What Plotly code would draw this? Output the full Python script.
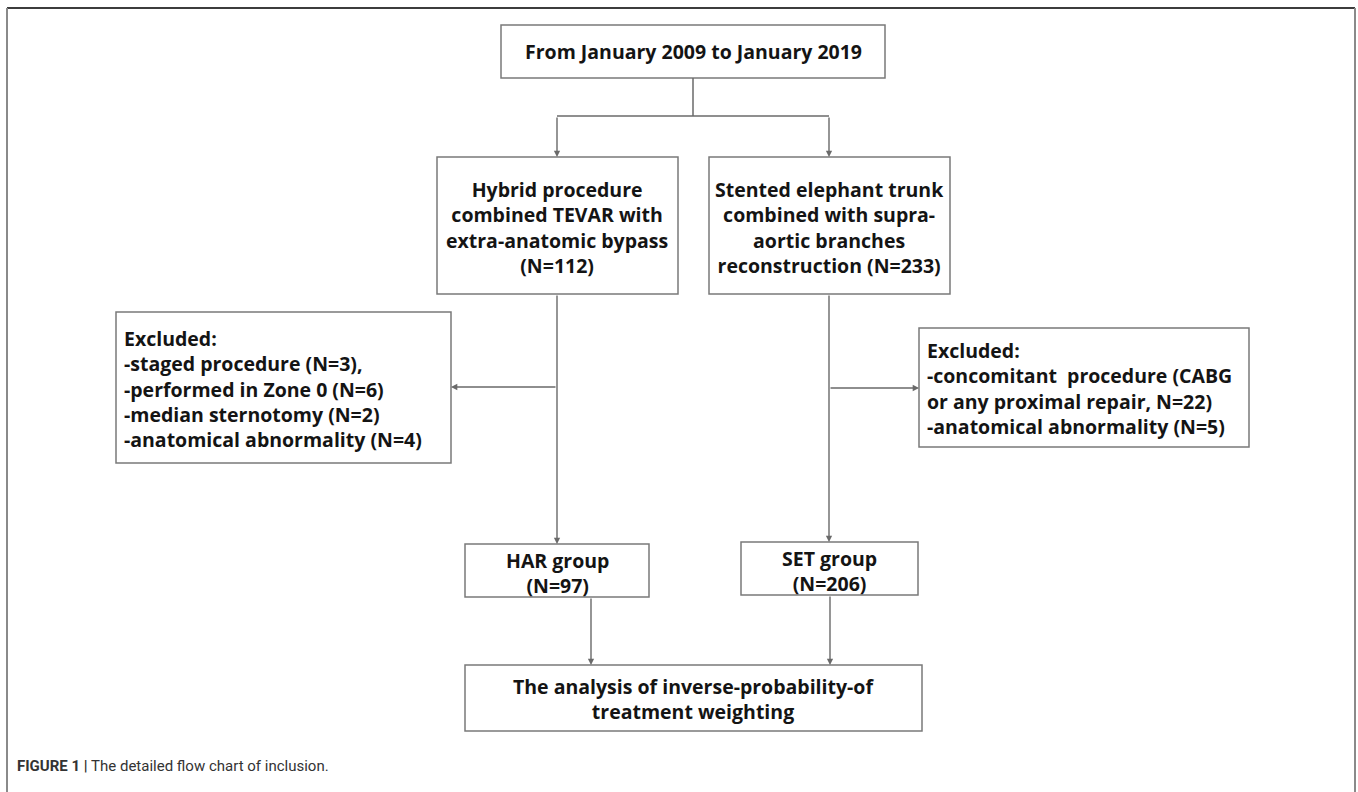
import plotly.graph_objects as go

# ---- data (texts / counts) ----
period = "From January 2009 to January 2019"
har_proc_lines = ["Hybrid procedure", "combined TEVAR with", "extra-anatomic bypass", "(N=112)"]
set_proc_lines = ["Stented elephant trunk", "combined with supra-", "aortic branches", "reconstruction (N=233)"]
har_excl_lines = ["Excluded:", "-staged procedure (N=3),", "-performed in Zone 0 (N=6)",
                  "-median sternotomy (N=2)", "-anatomical abnormality (N=4)"]
set_excl_lines = ["Excluded:", "-concomitant\u00a0 procedure (CABG", "or any proximal repair, N=22)",
                  "-anatomical abnormality (N=5)"]
har_group_lines = ["HAR group", "(N=97)"]
set_group_lines = ["SET group", "(N=206)"]
final_lines = ["The analysis of inverse-probability-of", "treatment weighting"]
caption_bold = "FIGURE 1 |"
caption_text = "The detailed flow chart of inclusion."

# ---- layout geometry ----
W, H = 1358, 792
BOX_COL = "#7a7a7a"
LINE_COL = "#6a6a6a"
TXT_COL = "#141414"
FONT = "Open Sans, Noto Sans, DejaVu Sans"
FS = 19.5

boxes = {
    "top": (501, 25, 885, 78),
    "har": (437, 157, 678, 294),
    "set": (709, 157, 950, 294),
    "hex": (116, 312, 451, 463),
    "sex": (919, 328, 1249, 447),
    "hg": (465, 544, 649, 597),
    "sg": (741, 542, 918, 595),
    "fin": (465, 665, 922, 731),
}

fig = go.Figure()
shapes = []
annotations = []

for (x0, y0, x1, y1) in boxes.values():
    shapes.append(dict(type="rect", xref="x", yref="y", x0=x0, y0=y0, x1=x1, y1=y1,
                       line=dict(color=BOX_COL, width=1.5), fillcolor="rgba(0,0,0,0)", layer="above"))

def seg(x0, y0, x1, y1, col=LINE_COL, w=1.5):
    shapes.append(dict(type="line", xref="x", yref="y", x0=x0, y0=y0, x1=x1, y1=y1,
                       line=dict(color=col, width=w), layer="above"))

def arrow(x0, y0, x1, y1):
    annotations.append(dict(x=x1, y=y1, ax=x0, ay=y0, xref="x", yref="y", axref="x", ayref="y",
                            showarrow=True, arrowhead=2, arrowsize=0.9, arrowwidth=1.4,
                            arrowcolor=LINE_COL, text=""))

def block(lines, x, y, anchor="center"):
    annotations.append(dict(x=x, y=y, xref="x", yref="y",
                            text="<br>".join("<b>" + t + "</b>" for t in lines),
                            showarrow=False, xanchor=anchor, yanchor="middle", align=anchor,
                            font=dict(family=FONT, size=FS, color=TXT_COL)))

# outer frame
seg(7, 8, 1355, 8, col="#3c3c3c", w=2)
seg(7, 8, 7, 792, col="#8a8a8a", w=2)
seg(1355, 8, 1355, 792, col="#8a8a8a", w=2)

# connectors
seg(693, 78, 693, 116)
seg(557, 116, 829, 116)
arrow(557, 116, 557, 157)
arrow(829, 116, 829, 157)
# left branch
arrow(557, 294, 557, 544)
arrow(557, 387, 451, 387)
# right branch
arrow(829, 294, 829, 542)
arrow(829, 388, 919, 388)
# to final
arrow(591, 597, 591, 665)
arrow(830, 595, 830, 665)

# texts
block([period], 693, 51.5)
block(har_proc_lines, 557, 227)
block(set_proc_lines, 829.5, 227)
block(har_excl_lines, 122, 389, anchor="left")
block(set_excl_lines, 925, 388, anchor="left")
block(har_group_lines, 557, 573)
block(set_group_lines, 829.5, 571)
block(final_lines, 693.5, 698.5)

annotations.append(dict(x=15, y=766, xref="x", yref="y", showarrow=False, xanchor="left", yanchor="middle",
                        text="<b>" + caption_bold + "</b> " + caption_text,
                        font=dict(family="Liberation Sans Narrow, Roboto, Arial Narrow", size=15, color="#333333")))

fig.update_layout(
    width=W, height=H, autosize=False,
    margin=dict(l=0, r=0, t=0, b=0),
    paper_bgcolor="white", plot_bgcolor="white",
    xaxis=dict(range=[0, W], visible=False, fixedrange=True),
    yaxis=dict(range=[H, 0], visible=False, fixedrange=True),
    shapes=shapes, annotations=annotations, showlegend=False,
)

fig.write_html("out.html", config={"displayModeBar": False},
               post_script="document.body.style.margin='0';document.body.style.overflow='hidden';")
